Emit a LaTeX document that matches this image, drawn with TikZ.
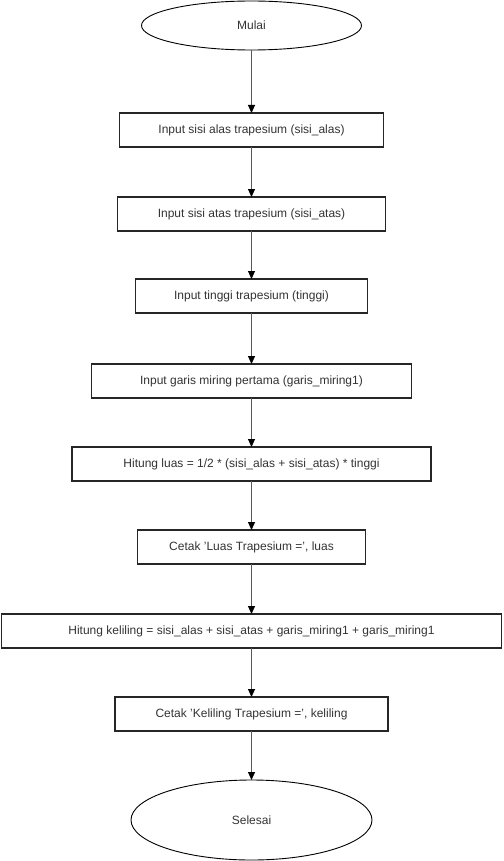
\documentclass[tikz,border=0pt]{standalone}
\usepackage{fontspec}
\setmainfont{Liberation Sans}
\usetikzlibrary{arrows.meta,positioning,shapes.geometric}
\tikzset{
    %Define standard arrow tip
    >={Triangle[length=8pt,width=7pt,color=black]},
    %Define style for start and end
    terminal/.style={
           ellipse,
           draw=black, line width=0.9pt,
           inner sep=0pt, outer sep=0pt,
           text=black!80},
    %Define style for boxes
    box/.style={
           rectangle,
           draw=black!85, line width=1.5pt,
           minimum height=34pt,
           inner sep=0pt, outer sep=0pt,
           text=black!80},
    % Define arrow style
    flow/.style={
           ->,
           draw=black!65,
           line width=1pt}
}

\begin{document}
\begin{tikzpicture}[x=1pt, y=1pt, node distance=50pt, font=\fontsize{12}{14}\selectfont]
 %frame
    \useasboundingbox (0,0) rectangle (503,-861);
 %nodes
    \node[terminal, minimum width=220pt, minimum height=49pt] (mulai) at (251.5,-25.5) {Mulai};
    \node[box, minimum width=264pt, below=63pt of mulai] (alas) {Input sisi alas trapesium (sisi\_alas)};
    \node[box, minimum width=268pt, below=50pt of alas] (atas) {Input sisi atas trapesium (sisi\_atas)};
    \node[box, minimum width=232pt, below=48pt of atas] (tinggi) {Input tinggi trapesium (tinggi)};
    \node[box, minimum width=320pt, below=51pt of tinggi] (miring) {Input garis miring pertama (garis\_miring1)};
    \node[box, minimum width=359pt, below=49pt of miring] (luas) {Hitung luas = 1/2 * (sisi\_alas + sisi\_atas) * tinggi};
    \node[box, minimum width=228pt, below=49pt of luas] (cetakluas) {Cetak 'Luas Trapesium =', luas};
    \node[box, minimum width=500pt, below=50pt of cetakluas] (keliling) {Hitung keliling = sisi\_alas + sisi\_atas + garis\_miring1 + garis\_miring1};
    \node[box, minimum width=273pt, below=49pt of keliling] (cetakkel) {Cetak 'Keliling Trapesium =', keliling};
    \node[terminal, minimum width=241pt, minimum height=80pt, below=49pt of cetakkel] (selesai) {Selesai};
 %edges
    \draw[flow] (mulai) -- (alas);
    \draw[flow] (alas) -- (atas);
    \draw[flow] (atas) -- (tinggi);
    \draw[flow] (tinggi) -- (miring);
    \draw[flow] (miring) -- (luas);
    \draw[flow] (luas) -- (cetakluas);
    \draw[flow] (cetakluas) -- (keliling);
    \draw[flow] (keliling) -- (cetakkel);
    \draw[flow] (cetakkel) -- (selesai);
\end{tikzpicture}
\end{document}
